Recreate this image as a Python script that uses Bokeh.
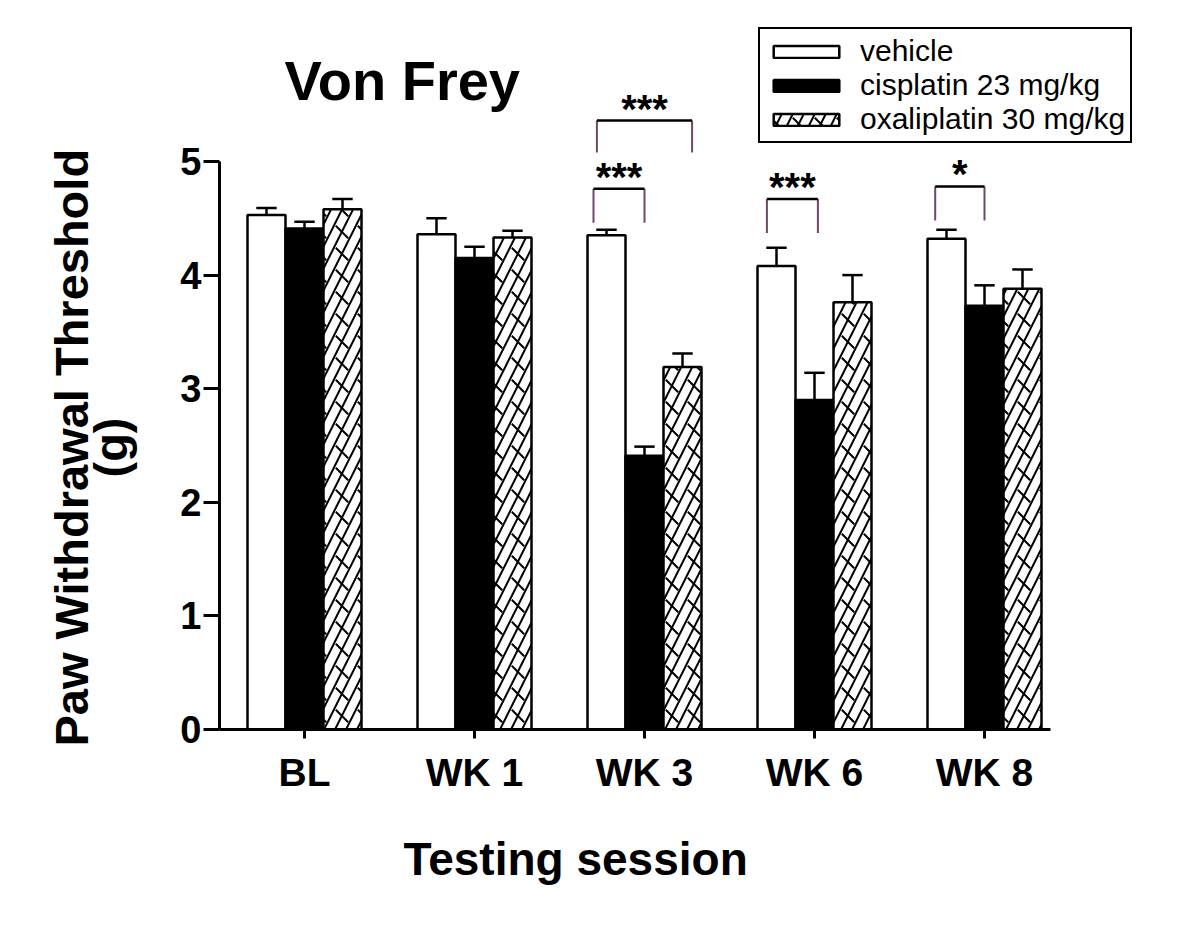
import numpy as np
from bokeh.plotting import figure
from bokeh.models import (ColumnDataSource, Range1d, FixedTicker, Legend, LegendItem, Label, Title)
from bokeh.core.properties import value
from bokeh.embed import file_html
from bokeh.resources import INLINE

# ---- data ----
sessions = ["BL", "WK 1", "WK 3", "WK 6", "WK 8"]
vehicle = [4.53, 4.36, 4.35, 4.08, 4.32]
vehicle_sem = [0.06, 0.14, 0.05, 0.16, 0.08]
cisplatin = [4.41, 4.15, 2.41, 2.90, 3.73]
cisplatin_sem = [0.06, 0.10, 0.08, 0.24, 0.18]
oxaliplatin = [4.58, 4.33, 3.19, 3.76, 3.88]
oxaliplatin_sem = [0.09, 0.06, 0.12, 0.24, 0.17]
series_names = ["vehicle", "cisplatin 23 mg/kg", "oxaliplatin 30 mg/kg"]
y_ticks = [0, 1, 2, 3, 4, 5]

# significance brackets
brk_x0 = [2.70, 2.72, 3.72, 4.71]
brk_x1 = [3.00, 3.28, 4.02, 5.00]
brk_top = [4.76, 5.36, 4.67, 4.78]
brk_bot = [4.46, 5.08, 4.37, 4.48]
brk_text = ["***", "***", "***", "*"]

FONT = "Liberation Sans"
PX_PER_UNIT = 113.6
W, H = 1184, 923
ML, MR, MT, MB = 219, 32, 18, 194
frame_w = W - ML - MR
frame_h = H - MT - MB

x0 = 0.5
p = figure(width=W, height=H, output_backend="svg", toolbar_location=None,
           x_range=Range1d(x0, x0 + frame_w / 170.0),
           y_range=Range1d(0, frame_h / PX_PER_UNIT),
           min_border_left=ML, min_border_right=MR, min_border_top=MT, min_border_bottom=MB)
p.outline_line_color = None
p.xgrid.visible = False
p.ygrid.visible = False
p.background_fill_color = "white"
p.border_fill_color = "white"

bw = 38 / 170.0
g = np.arange(1, len(sessions) + 1)
offsets = [-bw, 0.0, bw]
vals = [vehicle, cisplatin, oxaliplatin]
sems = [vehicle_sem, cisplatin_sem, oxaliplatin_sem]
fills = ["white", "black", "white"]

legend_items = []
for i in range(3):
    xs = g + offsets[i]
    src = ColumnDataSource(dict(x=xs, top=vals[i]))
    rends = []
    if i < 2:
        r = p.vbar(x="x", top="top", width=bw, source=src, fill_color=fills[i],
                   line_color="black", line_width=2.5)
        rends.append(r)
    else:
        r1 = p.vbar(x="x", top="top", width=bw, source=src, fill_color="white",
                    line_color=None, hatch_pattern="right_diagonal_line",
                    hatch_color="black", hatch_weight=2, hatch_scale=22)
        r2 = p.vbar(x="x", top="top", width=bw, source=src, fill_alpha=0,
                    line_color="black", line_width=2.5, hatch_pattern="left_diagonal_dash",
                    hatch_color="black", hatch_weight=2, hatch_scale=22)
        rends += [r1, r2]
    legend_items.append(LegendItem(label=series_names[i], renderers=rends))
    # error bars (upper only)
    tops = np.array(vals[i]) + np.array(sems[i])
    p.segment(x0=xs, y0=vals[i], x1=xs, y1=tops, line_color="black", line_width=2.5)
    cap = 0.06
    p.segment(x0=xs - cap, y0=tops, x1=xs + cap, y1=tops, line_color="black", line_width=2.5)

# brackets
p.segment(x0=brk_x0, y0=brk_bot, x1=brk_x0, y1=brk_top, line_color="#6e4868", line_width=2)
p.segment(x0=brk_x1, y0=brk_bot, x1=brk_x1, y1=brk_top, line_color="#6e4868", line_width=2)
p.segment(x0=brk_x0, y0=brk_top, x1=brk_x1, y1=brk_top, line_color="black", line_width=2.5)
bx = [(a + b) / 2 for a, b in zip(brk_x0, brk_x1)]
p.text(x=bx, y=brk_top, text=brk_text, text_align="center", text_baseline="alphabetic",
       y_offset=-12, text_font=value(FONT), text_font_style="bold",
       text_font_size="40px", text_color="black")

# axes
xa = p.xaxis[0]
xa.ticker = FixedTicker(ticks=list(g))
xa.major_label_overrides = {int(k): s for k, s in zip(g, sessions)}
xa.bounds = (x0, 5.388)
xa.axis_line_width = 3
xa.major_tick_line_width = 3
xa.major_tick_out = 9
xa.major_tick_in = 0
xa.minor_tick_line_color = None
xa.major_label_text_font = FONT
xa.major_label_text_font_style = "bold"
xa.major_label_text_font_size = "39px"
xa.major_label_text_color = "black"
xa.major_label_standoff = 12

ya = p.yaxis[0]
ya.ticker = FixedTicker(ticks=y_ticks)
ya.bounds = (0, 5)
ya.axis_line_width = 3
ya.major_tick_line_width = 3
ya.major_tick_out = 16
ya.major_tick_in = 0
ya.minor_tick_line_color = None
ya.major_label_text_font = FONT
ya.major_label_text_font_style = "bold"
ya.major_label_text_font_size = "38px"
ya.major_label_text_color = "black"
ya.major_label_standoff = 2

# axis titles as side titles (offset to match the original placement)
def side_title(text, size, offset, standoff):
    return Title(text=text, align="left", offset=offset, standoff=standoff,
                 text_font=FONT, text_font_style="bold", text_font_size=size,
                 text_color="black")

p.add_layout(side_title("Testing session", "46px", 184, 69), "below")
p.add_layout(side_title("(g)", "47px", 252, 82), "left")
p.add_layout(side_title("Paw Withdrawal Threshold", "47px", -17, -115), "left")

# chart title text
p.add_layout(Label(x=1 + (284 - 304) / 170.0, y=(729 - 80) / PX_PER_UNIT, text="Von Frey",
                   text_font=FONT, text_font_style="bold", text_color="black",
                   text_font_size="56px", text_align="left", text_baseline="middle"))

legend = Legend(items=legend_items, location=(539, 586))
legend.border_line_color = "black"
legend.border_line_alpha = 1
legend.border_line_width = 2
legend.background_fill_color = "white"
legend.background_fill_alpha = 1
legend.glyph_width = 82
legend.glyph_height = 15
legend.label_height = 30
legend.label_standoff = 13
legend.spacing = 0
legend.padding = 5
legend.margin = 0
legend.label_text_font = FONT
legend.label_text_font_size = "30px"
legend.label_text_color = "black"
p.add_layout(legend)

open("out.html", "w").write(file_html(p, INLINE))
